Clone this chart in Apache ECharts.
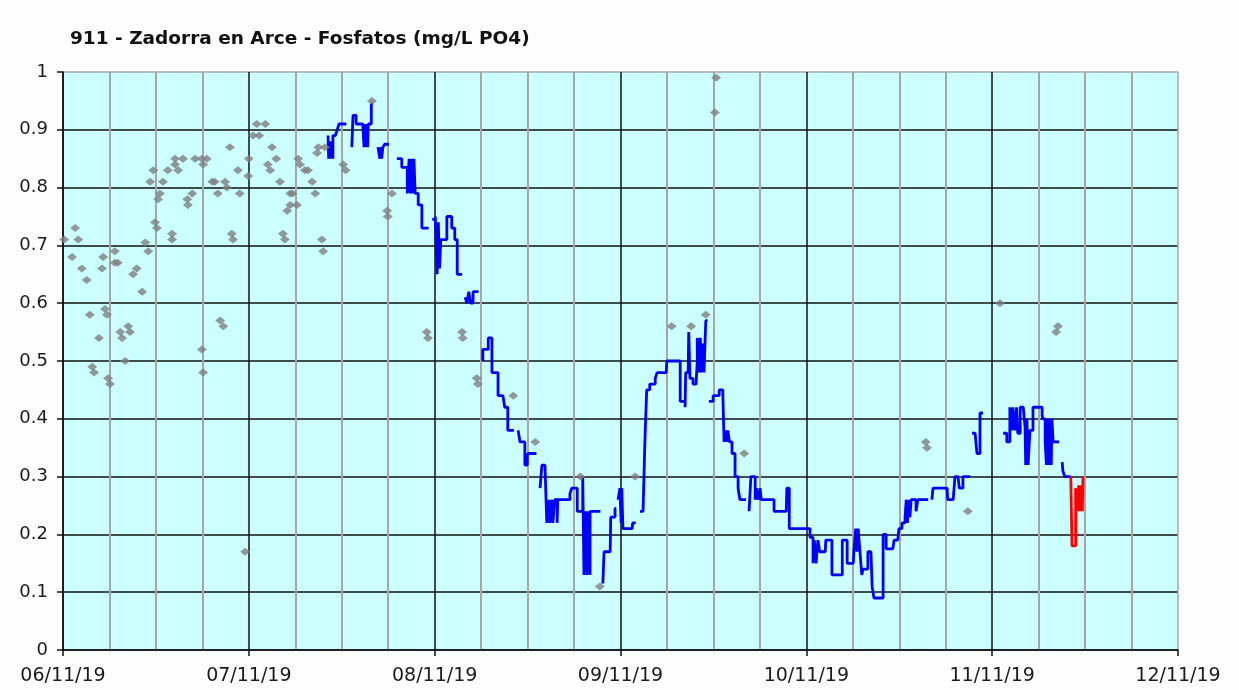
<!DOCTYPE html>
<html>
<head>
<meta charset="utf-8">
<title>911 - Zadorra en Arce - Fosfatos</title>
<script src="https://cdn.jsdelivr.net/npm/echarts@6/dist/echarts.min.js"></script>
<style>
  html, body { margin: 0; padding: 0; background: #fdfdfd; }
  #chart { width: 1239px; height: 690px; }
</style>
</head>
<body>
<div id="chart"></div>
<script>
/* eje X en días desde 06/11/19 (183 días, 6 divisiones de 30.5) */
var tickLabels = ['06/11/19', '07/11/19', '08/11/19', '09/11/19', '10/11/19', '11/11/19', '12/11/19'];

// muestras de laboratorio (rombos grises)
var sampleDay = [0.2, 2.5, 2.0, 1.5, 3.1, 3.9, 6.6, 6.4, 8.5, 8.5, 9.0, 11.5, 12.1, 13.0, 13.5, 14.0,
  15.1, 15.4, 15.9, 15.6, 14.3, 16.4, 14.8, 17.2, 18.4, 18.9, 18.4, 19.7, 17.9, 17.9, 20.4, 20.5,
  21.2, 21.7, 22.8, 23.6, 23.0, 24.5, 24.9, 25.4, 26.6, 26.9, 27.4, 27.7, 27.9, 29.0, 28.7, 30.4,
  30.5, 31.2, 32.2, 31.8, 33.2, 34.3, 35.0, 33.6, 34.0, 35.6, 36.1, 36.4, 36.8, 37.3, 38.4, 37.3,
  37.7, 38.6, 38.9, 39.7, 40.2, 40.9, 41.4, 41.9, 41.7, 43.0, 42.5, 42.7, 46.0, 46.4, 50.7, 53.2,
  53.3, 54.0,
  4.4, 4.8, 5.1, 5.9, 6.9, 7.2, 7.4, 7.7, 9.4, 9.7, 10.7, 11.0, 10.2, 25.8, 26.3, 22.8, 23.0, 29.9,
  59.7, 59.9, 65.5, 65.6, 67.9, 68.1, 73.9, 77.5, 84.9, 93.9, 88.1, 99.9, 103.1, 105.5, 107.2, 107.0,
  111.8, 141.6, 141.8, 148.5, 153.8, 163.3, 163.0];
var sampleVal = [0.71, 0.71, 0.73, 0.68, 0.66, 0.64, 0.68, 0.66, 0.69, 0.67, 0.67, 0.65, 0.66, 0.62, 0.705, 0.69,
  0.74, 0.73, 0.79, 0.78, 0.81, 0.81, 0.83, 0.83, 0.84, 0.83, 0.85, 0.85, 0.72, 0.71, 0.78, 0.77,
  0.79, 0.85, 0.85, 0.85, 0.84, 0.81, 0.81, 0.79, 0.81, 0.80, 0.87, 0.72, 0.71, 0.79, 0.83, 0.82,
  0.85, 0.89, 0.89, 0.91, 0.91, 0.87, 0.85, 0.84, 0.83, 0.81, 0.72, 0.71, 0.76, 0.77, 0.77, 0.79,
  0.79, 0.85, 0.84, 0.83, 0.83, 0.81, 0.79, 0.87, 0.86, 0.87, 0.71, 0.69, 0.84, 0.83, 0.95, 0.76,
  0.75, 0.79,
  0.58, 0.49, 0.48, 0.54, 0.59, 0.58, 0.47, 0.46, 0.55, 0.54, 0.56, 0.55, 0.50, 0.57, 0.56, 0.52, 0.48, 0.17,
  0.55, 0.54, 0.55, 0.54, 0.47, 0.46, 0.44, 0.36, 0.30, 0.30, 0.11, 0.56, 0.56, 0.58, 0.99, 0.93,
  0.34, 0.36, 0.35, 0.24, 0.60, 0.56, 0.55];

// analizador en continuo (azul), null = hueco
var onlineDay = [43.5, 43.6, 43.8, 44.0, 44.1, 44.3, 44.3, 44.7, 45.0, 45.3, 46.0, 46.5,
  47.4, 47.6, 48.1, 49.2, 49.4, 49.5, 49.7, 49.8, 50.0, 50.1, 50.6, 50.6, 50.9,
  51.7, 52.0, 52.2, 52.3, 52.5, 52.8, 53.5,
  54.8, 55.6, 55.6, 56.5, 56.5, 56.8, 57.0, 57.2, 57.4, 57.6, 57.8, 58.3, 58.9, 58.9, 59.4, 60.0,
  60.6, 61.1, 61.4, 61.6, 61.8, 62.0, 62.6, 63.0, 63.8, 64.3, 64.5, 64.7, 65.0, 65.5,
  66.0, 66.3, 66.6, 66.9, 67.3, 67.6, 68.2,
  68.9, 68.9, 69.8, 70.4, 70.4, 71.4, 71.4, 72.2, 72.5, 73.0, 73.0, 73.4, 74.0,
  74.7, 75.0, 75.8, 76.2, 76.3, 77.1, 77.7,
  78.3, 78.6, 79.1, 79.4, 79.7, 79.9, 80.2, 80.4, 80.7, 81.1, 81.2, 82.1, 83.2, 83.5, 84.0, 84.4, 84.9,
  85.3, 85.5, 85.8, 86.0, 86.2, 86.5, 86.5, 87.8, 88.2,
  88.6, 88.8, 89.8, 89.9, 90.6, 90.8,
  91.1, 91.4, 91.6, 91.7, 91.9, 93.4, 93.5, 94.0,
  94.7, 95.2, 95.5, 95.8, 95.8, 96.3, 97.2, 97.5, 99.0, 99.1, 100.9, 101.3, 102.1, 102.2, 102.6, 102.7,
  102.9, 103.4, 103.4, 103.9, 104.1, 104.1, 104.4, 104.6, 104.8, 105.0, 105.2, 105.5, 105.8,
  106.0, 106.7, 107.2, 107.7, 108.3, 108.5, 108.7, 108.9, 109.1, 109.4, 109.8, 110.3, 110.3, 110.8,
  110.8, 111.1, 111.6, 112.1,
  112.6, 112.9, 113.2, 113.6, 113.8, 114.1, 114.4, 114.6, 114.9, 116.7, 116.7, 118.7, 118.8, 119.2,
  119.2, 122.1, 122.6, 123.1, 123.3, 123.6, 123.9, 124.2, 125.1, 125.2, 125.6, 126.2, 126.2, 127.5,
  127.9, 128.2, 128.7, 129.7, 129.8, 130.1, 130.3, 130.5, 130.8, 131.1, 131.3, 132.1, 132.1, 132.6,
  132.8, 132.9, 133.1, 134.6, 134.6, 134.9, 135.1, 136.2, 136.4, 137.0, 137.2, 137.7, 138.2, 138.4,
  138.6, 138.8, 139.0, 139.2, 139.5, 140.0, 140.3, 141.5, 142.0,
  142.6, 142.8, 145.1, 145.2, 146.1, 146.4, 146.9, 147.1, 147.7, 147.7, 148.5, 148.9,
  149.2, 149.7, 150.0, 150.5, 150.5, 151.0,
  154.3, 154.9, 154.9, 155.4, 155.4, 155.7, 155.9, 156.2, 156.5, 156.7, 157.1, 157.6, 157.9, 158.0,
  158.2, 158.4, 158.7, 159.2, 159.2, 160.3, 160.7, 160.8, 161.2, 161.4, 161.6, 161.8, 162.0, 162.2,
  162.3, 162.5, 162.8, 163.5,
  164.0, 164.1, 164.4, 165.4];
var onlineVal = [0.89, 0.85, 0.88, 0.85, 0.88, 0.85, 0.89, 0.89, 0.90, 0.91, 0.91, null,
  0.87, 0.925, 0.91, 0.91, 0.87, 0.91, 0.87, 0.91, 0.87, 0.91, 0.91, 0.945, null,
  0.87, 0.85, 0.87, 0.85, 0.87, 0.875, null,
  0.85, 0.85, 0.835, 0.835, 0.79, 0.85, 0.79, 0.85, 0.79, 0.85, 0.79, 0.77, 0.77, 0.73, 0.73, null,
  0.745, 0.75, 0.65, 0.74, 0.66, 0.71, 0.71, 0.75, 0.73, 0.71, 0.71, 0.65, 0.65, null,
  0.61, 0.60, 0.62, 0.60, 0.62, 0.62, null,
  0.50, 0.52, 0.54, 0.54, 0.48, 0.48, 0.44, 0.44, 0.42, 0.42, 0.38, 0.38, null,
  0.38, 0.36, 0.32, 0.335, 0.34, 0.34, null,
  0.28, 0.32, 0.32, 0.22, 0.26, 0.22, 0.26, 0.22, 0.26, 0.22, 0.26, 0.26, 0.27, 0.28, 0.28, 0.24, 0.24,
  0.30, 0.13, 0.24, 0.13, 0.24, 0.13, 0.24, 0.24, null,
  0.115, 0.17, 0.17, 0.23, 0.245, null,
  0.26, 0.28, 0.22, 0.28, 0.21, 0.21, 0.22, null,
  0.24, 0.24, 0.36, 0.36, 0.45, 0.46, 0.47, 0.48, 0.48, 0.50, 0.50, 0.43, 0.42, 0.48, 0.48, 0.55,
  0.47, 0.47, 0.46, 0.46, 0.50, 0.54, 0.48, 0.54, 0.48, 0.53, 0.48, 0.57, null,
  0.43, 0.44, 0.44, 0.45, 0.44, 0.36, 0.38, 0.36, 0.38, 0.36, 0.34, 0.34, 0.30, 0.30,
  0.28, 0.26, 0.26, null,
  0.24, 0.30, 0.30, 0.26, 0.28, 0.26, 0.28, 0.26, 0.26, 0.26, 0.24, 0.24, 0.28, 0.28,
  0.21, 0.21, 0.195, 0.15, 0.19, 0.15, 0.19, 0.17, 0.17, 0.19, 0.19, 0.175, 0.13, 0.13,
  0.19, 0.19, 0.15, 0.15, 0.17, 0.21, 0.17, 0.21, 0.17, 0.13, 0.14, 0.14, 0.17, 0.17,
  0.11, 0.11, 0.09, 0.09, 0.20, 0.20, 0.175, 0.175, 0.19, 0.19, 0.21, 0.22, 0.23, 0.26,
  0.22, 0.26, 0.23, 0.26, 0.26, 0.24, 0.26, 0.26, null,
  0.26, 0.28, 0.28, 0.26, 0.26, 0.30, 0.30, 0.28, 0.28, 0.30, 0.30, null,
  0.375, 0.375, 0.34, 0.34, 0.41, null,
  0.375, 0.375, 0.36, 0.36, 0.42, 0.38, 0.42, 0.38, 0.42, 0.375, 0.42, 0.42, 0.385, 0.32,
  0.40, 0.32, 0.38, 0.38, 0.42, 0.42, 0.405, 0.40, 0.36, 0.32, 0.40, 0.32, 0.40, 0.32,
  0.40, 0.36, 0.36, null,
  0.325, 0.31, 0.30, 0.30];

// tramo final en rojo
var flagDay = [165.4, 165.5, 165.6, 166.2, 166.2, 166.5, 166.7, 166.9, 167.1, 167.3, 167.4, 167.4];
var flagVal = [0.30, 0.24, 0.18, 0.18, 0.28, 0.24, 0.285, 0.24, 0.285, 0.24, 0.24, 0.30];

function pares(dias, vals) {
  var out = [];
  for (var i = 0; i < dias.length; i++) {
    out.push([dias[i], vals[i] === null ? '-' : vals[i]]);
  }
  return out;
}

var negro = '#111111', gris = '#a6a6a6';
var fuente = 'DejaVu Sans';

var chart = echarts.init(document.getElementById('chart'));
chart.setOption({
  backgroundColor: '#fdfdfd',
  animation: false,
  title: {
    text: '911 - Zadorra en Arce - Fosfatos (mg/L PO4)',
    left: 65, top: 25,
    textStyle: { fontFamily: fuente, fontWeight: 'bold', fontSize: 18.5, color: '#111' }
  },
  grid: {
    left: 63, right: 61, top: 72, bottom: 40,
    show: true, backgroundColor: '#ccffff', borderWidth: 0,
    outerBoundsMode: 'none'
  },
  xAxis: {
    type: 'value', min: 0, max: 183, interval: 30.5,
    axisLine: { lineStyle: { color: negro, width: 1.5 } },
    axisTick: { show: true, inside: false, length: 6, lineStyle: { color: negro, width: 1.5 } },
    axisLabel: {
      margin: 17, fontFamily: fuente, fontSize: 19, color: '#1a1a1a',
      formatter: function (v) { return tickLabels[Math.round(v / 30.5)]; }
    },
    splitLine: { show: true, lineStyle: { color: [negro, negro, negro, negro, negro, negro, gris], width: 1.5 } },
    minorTick: { show: false, splitNumber: 4 },
    minorSplitLine: { show: true, lineStyle: { color: gris, width: 2 } }
  },
  yAxis: {
    type: 'value', min: 0, max: 1, interval: 0.1,
    axisLine: { show: true, lineStyle: { color: negro, width: 1.5 } },
    axisTick: { show: true, inside: false, length: 6, lineStyle: { color: negro, width: 1.5 } },
    axisLabel: { margin: 15, fontFamily: fuente, fontSize: 18, color: '#1a1a1a' },
    splitLine: {
      show: true,
      lineStyle: { color: [negro, negro, negro, negro, negro, negro, negro, negro, negro, negro, gris], width: 1.5 }
    }
  },
  series: [
    {
      name: 'online', type: 'line', data: pares(onlineDay, onlineVal),
      step: 'end', showSymbol: false, connectNulls: false, z: 3,
      lineStyle: { color: '#0000ff', width: 2.8 }
    },
    {
      name: 'flag', type: 'line', data: pares(flagDay, flagVal),
      step: 'end', showSymbol: false, z: 3,
      lineStyle: { color: '#ff0000', width: 2.8 }
    },
    {
      name: 'muestras', type: 'scatter', data: pares(sampleDay, sampleVal),
      symbol: 'diamond', symbolSize: [10, 8], z: 4,
      itemStyle: { color: '#808080' }
    }
  ]
});
</script>
</body>
</html>
